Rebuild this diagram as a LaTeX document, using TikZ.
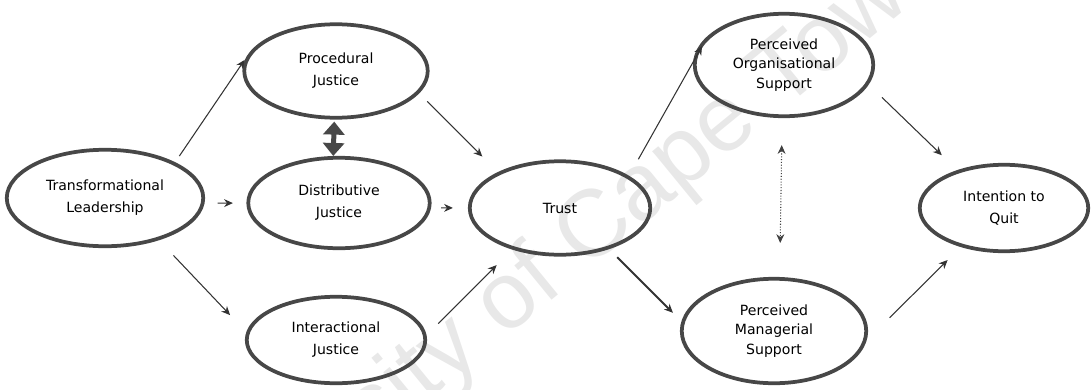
\documentclass[tikz,border=0pt]{standalone}
\usepackage{fontspec}
\setmainfont{DejaVu Sans}
\newfontfamily\markfont{Liberation Sans}
\usetikzlibrary{shapes.geometric,arrows.meta}

\begin{document}
\begin{tikzpicture}[x=0.02cm,y=-0.02cm,
  var/.style={ellipse,draw=black!72,line width=0.075cm,align=center,inner sep=0pt,
    font=\fontsize{8}{12.5}\selectfont},
  var3/.style={var,font=\fontsize{8}{11}\selectfont},
  link/.style={black!80,line width=0.6pt,-{Stealth[length=5pt,width=4.5pt]}}]

\useasboundingbox (0,0) rectangle (1092,389);

% watermark
\node[rotate=39.3,text=black!9,font=\markfont\fontsize{54}{54}\selectfont] (mark) at (542,276) {University of Cape Town};

\node[var,minimum width=3.93cm,minimum height=1.93cm] (tl) at (105,198) {Transformational\\Leadership};
\node[var,minimum width=3.67cm,minimum height=1.87cm] (pj) at (336,71) {Procedural\\Justice};
\node[var,minimum width=3.63cm,minimum height=1.81cm] (dj) at (339,203) {Distributive\\Justice};
\node[var,minimum width=3.57cm,minimum height=1.73cm] (ij) at (336,340) {Interactional\\Justice};
\node[var,minimum width=3.61cm,minimum height=1.87cm] (tr) at (560,208) {Trust};
\node[var3,minimum width=3.57cm,minimum height=2.05cm] (pos) at (784,65) {Perceived\\Organisational\\Support};
\node[var3,minimum width=3.69cm,minimum height=2.09cm] (pms) at (774,331) {Perceived\\Managerial\\Support};
\node[var,minimum width=3.37cm,minimum height=1.73cm] (iq) at (1004,208) {Intention to\\Quit};

% leadership to justice
\draw[link,shorten <=0.15cm,shorten >=0.21cm] (tl.27) -- (pj.167);
\draw[link,shorten <=0.26cm,shorten >=0.27cm] (tl.-3) -- (dj.west);
\draw[link,shorten <=0.42cm,shorten >=0.47cm] (tl.-38) -- (ij.175);
\draw[black!72,line width=0.1cm,{Triangle[width=0.42cm,length=0.26cm]}-{Triangle[width=0.42cm,length=0.26cm]},shorten <=0.04cm] (pj.-92) -- (dj.97);

% justice to trust
\draw[link,shorten <=0.23cm,shorten >=0.44cm] (pj.-15) -- (tr.150);
\draw[link,shorten <=0.2cm,shorten >=0.3cm] (dj.-3) -- (tr.west);
\draw[link,shorten <=0.33cm,shorten >=0.44cm] (ij.3) -- (tr.221);

% trust to support
\draw[link,shorten <=0.38cm,shorten >=0.24cm] (tr.25) -- (pos.159);
\draw[link,line width=1.1pt,shorten <=0.23cm,shorten >=0.24cm] (tr.-40) -- (pms.174);
\draw[black!75,line width=0.6pt,densely dotted,{Stealth[length=5pt,width=4.5pt]}-{Stealth[length=5pt,width=4.5pt]},shorten <=0.54cm,shorten >=0.68cm] (pos.-92) -- (pms.84);

% support to intention
\draw[link,shorten <=0.37cm,shorten >=0.43cm] (pos.-13) -- (iq.141);
\draw[link,shorten <=0.65cm,shorten >=0.37cm] (pms.-6) -- (iq.222);

\end{tikzpicture}
\end{document}
